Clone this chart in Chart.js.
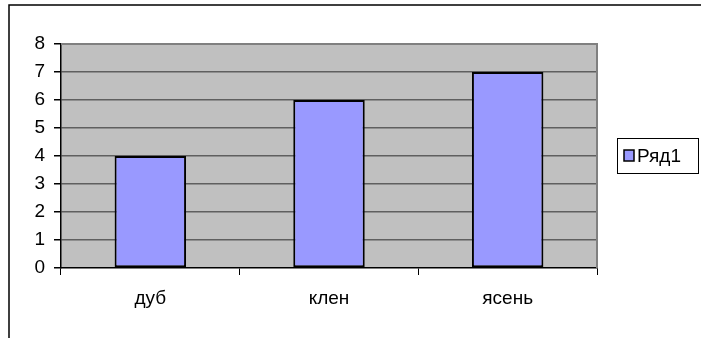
<!DOCTYPE html>
<html>
<head>
<meta charset="utf-8">
<script src="https://cdn.jsdelivr.net/npm/chart.js@4.4.1/dist/chart.umd.min.js"></script>
<style>
  html, body { margin: 0; padding: 0; background: #fff; }
  #wrap { width: 701px; height: 338px; position: relative; }
</style>
</head>
<body>
<div id="wrap"><canvas id="chart" width="701" height="338"></canvas></div>
<script>
// Chart data
const categories = ['дуб', 'клен', 'ясень'];
const seriesName = 'Ряд1';
const seriesValues = [4, 6, 7];
const yTicks = [0, 1, 2, 3, 4, 5, 6, 7, 8];

const FONT = 'Liberation Sans, Arial, sans-serif';
const BAR_FILL = '#9999FF';
const PLOT_BG = '#C0C0C0';

// grey plot area, its frame and the outer chart border
const frame = {
  id: 'frame',
  beforeDatasetsDraw(chart) {
    const { ctx, chartArea: a } = chart;
    ctx.save();
    ctx.strokeStyle = '#000';
    ctx.lineWidth = 1.5;
    ctx.strokeRect(9, 5, 800, 800);
    ctx.restore();
  },
  beforeDraw(chart) {
    const { ctx, chartArea: a } = chart;
    ctx.save();
    ctx.fillStyle = PLOT_BG;
    ctx.fillRect(a.left, a.top, a.right - a.left, a.bottom - a.top);
    ctx.restore();
  },
  afterDatasetsDraw(chart) {
    const { ctx, chartArea: a } = chart;
    ctx.save();
    ctx.strokeStyle = '#808080';
    ctx.lineWidth = 2;
    ctx.beginPath();
    ctx.moveTo(a.left, a.top);
    ctx.lineTo(a.right, a.top);
    ctx.lineTo(a.right, a.bottom);
    ctx.stroke();
    ctx.restore();
  }
};

// boxed legend on the right
const boxLegend = {
  id: 'boxLegend',
  afterDraw(chart) {
    const { ctx } = chart;
    const ds = chart.data.datasets[0];
    ctx.save();
    ctx.strokeStyle = '#000';
    ctx.lineWidth = 1;
    ctx.strokeRect(617.5, 138.5, 81, 35);
    ctx.fillStyle = ds.backgroundColor;
    ctx.fillRect(624, 150, 10, 11);
    ctx.lineWidth = 1.5;
    ctx.strokeRect(624, 150, 10, 11);
    ctx.fillStyle = '#000';
    ctx.font = '19px ' + FONT;
    ctx.textBaseline = 'middle';
    ctx.fillText(ds.label, 637, 156.5);
    ctx.restore();
  }
};

new Chart(document.getElementById('chart'), {
  type: 'bar',
  data: {
    labels: categories,
    datasets: [{
      label: seriesName,
      data: seriesValues,
      backgroundColor: BAR_FILL,
      borderColor: '#000',
      borderWidth: 2,
      borderSkipped: false,
      barPercentage: 0.4,
      categoryPercentage: 1
    }]
  },
  options: {
    responsive: false,
    animation: false,
    layout: { padding: { left: 0, top: 44, right: 104, bottom: 0 } },
    plugins: {
      legend: { display: false },
      tooltip: { enabled: false }
    },
    scales: {
      x: {
        afterFit(s) { s.height = 70; },
        border: { color: '#000', width: 1.5 },
        grid: {
          drawOnChartArea: false,
          tickColor: '#000',
          tickLength: 7
        },
        ticks: {
          color: '#000',
          font: { family: FONT, size: 19 },
          padding: 12
        }
      },
      y: {
        min: 0,
        max: 8,
        afterFit(s) { s.width = 61; },
        afterBuildTicks(s) { s.ticks = yTicks.map(v => ({ value: v })); },
        border: { color: '#000', width: 1.5 },
        grid: {
          color: ctx => (ctx.tick && ctx.tick.value > 0 && ctx.tick.value < 8) ? '#5f5f5f' : 'rgba(0,0,0,0)',
          lineWidth: 1.5,
          tickColor: '#000',
          tickLength: 7
        },
        ticks: {
          color: '#000',
          font: { family: FONT, size: 19 },
          padding: 9
        }
      }
    }
  },
  plugins: [frame, boxLegend]
});
</script>
</body>
</html>
